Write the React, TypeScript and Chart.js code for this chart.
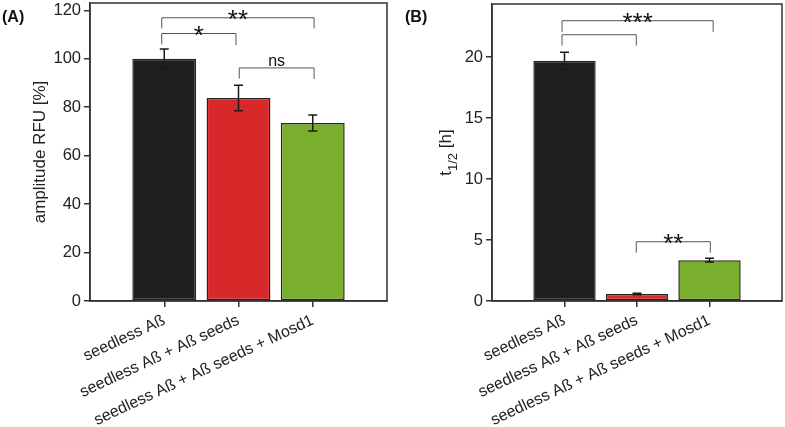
import React, { useEffect, useRef } from 'react';
import { Chart, registerables } from 'chart.js';

Chart.register(...registerables);

const FONT = "'Liberation Sans', Arial, Helvetica, sans-serif";

const categories = ['seedless Aß', 'seedless Aß + Aß seeds', 'seedless Aß + Aß seeds + Mosd1'];
const categoryPositions = [1, 2, 3];
const barColors = ['#1f1f1f', '#d7282a', '#7aae2d'];

const amplitudeValues = [100, 83.8, 73.5];
const amplitudeErrors = [4.0, 5.3, 3.3];
const amplitudeTicks = [0, 20, 40, 60, 80, 100, 120];

const halfLifeValues = [19.7, 0.57, 3.35];
const halfLifeErrors = [0.7, 0.06, 0.15];
const halfLifeTicks = [0, 5, 10, 15, 20];

const amplitudeBrackets = [
  { x1: 0.966, x2: 3.018, y: 116.9, yL: 112.5, yR: 112.5, label: '**' },
  { x1: 0.966, x2: 1.966, y: 110.4, yL: 105.9, yR: 105.6, label: '*' },
  { x1: 2.01, x2: 3.018, y: 96.2, yL: 91.8, yR: 91.6, label: 'ns' },
];

const halfLifeBrackets = [
  { x1: 0.966, x2: 3.05, y: 22.98, yL: 22.07, yR: 22.07, label: '***' },
  { x1: 0.966, x2: 1.99, y: 21.83, yL: 20.94, yR: 20.94, label: '' },
  { x1: 1.99, x2: 3.011, y: 4.86, yL: 3.96, yR: 3.96, label: '**' },
];

type Bracket = { x1: number; x2: number; y: number; yL: number; yR: number; label: string };

function makePlugin(panel: string, errors: number[], brackets: Bracket[], titleKind: 'amp' | 'half', titleX: number, panelX: number) {
  return {
    id: 'extras' + panel,
    afterDatasetsDraw(chart: any) {
      const ctx = chart.ctx;
      const xs = chart.scales.x;
      const ys = chart.scales.y;
      const area = chart.chartArea;
      const data = chart.data.datasets[0].data as { x: number; y: number }[];
      ctx.save();
      // error bars
      ctx.strokeStyle = '#1a1a1a';
      ctx.lineWidth = 1.5;
      data.forEach((d, i) => {
        const px = xs.getPixelForValue(d.x);
        const yt = ys.getPixelForValue(d.y + errors[i]);
        const yb = ys.getPixelForValue(d.y - errors[i]);
        ctx.beginPath();
        ctx.moveTo(px, yt);
        ctx.lineTo(px, yb);
        ctx.moveTo(px - 4.5, yt);
        ctx.lineTo(px + 4.5, yt);
        ctx.moveTo(px - 4.5, yb);
        ctx.lineTo(px + 4.5, yb);
        ctx.stroke();
      });
      // brackets
      ctx.strokeStyle = '#555';
      ctx.lineWidth = 1;
      brackets.forEach((b) => {
        const l = xs.getPixelForValue(b.x1);
        const r = xs.getPixelForValue(b.x2);
        const y = ys.getPixelForValue(b.y);
        ctx.beginPath();
        ctx.moveTo(l, ys.getPixelForValue(b.yL));
        ctx.lineTo(l, y);
        ctx.lineTo(r, y);
        ctx.lineTo(r, ys.getPixelForValue(b.yR));
        ctx.stroke();
        if (b.label) {
          ctx.fillStyle = '#111';
          ctx.textAlign = 'center';
          ctx.textBaseline = 'alphabetic';
          if (b.label === 'ns') {
            ctx.font = `16px ${FONT}`;
            ctx.fillText(b.label, (l + r) / 2, y - 2);
          } else {
            ctx.font = `26px ${FONT}`;
            ctx.fillText(b.label, (l + r) / 2, y + 10);
          }
        }
      });
      // frame
      ctx.strokeStyle = '#333';
      ctx.lineWidth = 1.5;
      ctx.strokeRect(area.left, area.top, area.right - area.left, area.bottom - area.top);
      // panel label
      ctx.fillStyle = '#111';
      ctx.font = `bold 16px ${FONT}`;
      ctx.textAlign = 'left';
      ctx.textBaseline = 'alphabetic';
      ctx.fillText(`(${panel})`, panelX, 22);
      // y title
      const cy = (area.top + area.bottom) / 2;
      ctx.translate(titleX, cy);
      ctx.rotate(-Math.PI / 2);
      ctx.fillStyle = '#222';
      if (titleKind === 'amp') {
        ctx.font = `17px ${FONT}`;
        ctx.textAlign = 'center';
        ctx.textBaseline = 'middle';
        ctx.fillText('amplitude RFU [%]', 0, 0);
      } else {
        const big = `17px ${FONT}`;
        const small = `13px ${FONT}`;
        ctx.textAlign = 'left';
        ctx.textBaseline = 'alphabetic';
        ctx.font = big;
        const w1 = ctx.measureText('t').width;
        const w3 = ctx.measureText(' [h]').width;
        ctx.font = small;
        const w2 = ctx.measureText('1/2').width;
        let x0 = -(w1 + w2 + w3) / 2;
        ctx.font = big;
        ctx.fillText('t', x0, 0);
        x0 += w1;
        ctx.font = small;
        ctx.fillText('1/2', x0, 6);
        x0 += w2;
        ctx.font = big;
        ctx.fillText(' [h]', x0, 0);
      }
      ctx.restore();
    },
  };
}

function makeConfig(values: number[], errors: number[], yTicks: number[], yMax: number, yWidth: number, pad: any, plugin: any) {
  return {
    type: 'bar',
    data: {
      datasets: [
        {
          data: values.map((v, i) => ({ x: categoryPositions[i], y: v })),
          backgroundColor: barColors,
          borderColor: '#262626',
          borderWidth: 1.5,
          borderSkipped: false,
          barPercentage: 0.86,
          categoryPercentage: 1,
        },
      ],
    },
    options: {
      animation: false,
      responsive: false,
      maintainAspectRatio: false,
      layout: { padding: pad },
      plugins: { legend: { display: false }, tooltip: { enabled: false } },
      scales: {
        x: {
          type: 'linear',
          min: 0,
          max: 4,
          offset: false,
          afterBuildTicks: (s: any) => {
            s.ticks = categoryPositions.map((v) => ({ value: v }));
          },
          afterFit: (s: any) => {
            s.height = 126;
            s.paddingLeft = 0;
            s.paddingRight = 0;
          },
          grid: { display: true, offset: false, drawOnChartArea: false, drawTicks: true, tickLength: 6, color: '#333', lineWidth: 1.5 },
          border: { display: true, color: '#333', width: 1.5 },
          ticks: {
            autoSkip: false,
            minRotation: 25,
            maxRotation: 25,
            padding: 4,
            color: '#222',
            font: { family: FONT, size: 16 },
            callback: (v: number) => categories[categoryPositions.indexOf(v)] ?? '',
          },
        },
        y: {
          type: 'linear',
          min: 0,
          max: yMax,
          afterBuildTicks: (s: any) => {
            s.ticks = yTicks.map((v) => ({ value: v }));
          },
          afterFit: (s: any) => {
            s.width = yWidth;
            s.paddingTop = 0;
            s.paddingBottom = 0;
          },
          grid: { display: true, drawOnChartArea: false, drawTicks: true, tickLength: 6, color: '#333', lineWidth: 1.5 },
          border: { display: true, color: '#333', width: 1.5 },
          ticks: {
            includeBounds: false,
            padding: 3,
            color: '#222',
            font: { family: FONT, size: 16.5 },
          },
        },
      },
    },
    plugins: [plugin],
  } as any;
}

export default function App() {
  const refA = useRef<HTMLCanvasElement>(null);
  const refB = useRef<HTMLCanvasElement>(null);

  useEffect(() => {
    const a = new Chart(
      refA.current as HTMLCanvasElement,
      makeConfig(amplitudeValues, amplitudeErrors, amplitudeTicks, 123, 90, { left: 0, right: 5, top: 3, bottom: 0 },
        makePlugin('A', amplitudeErrors, amplitudeBrackets, 'amp', 40, 2))
    );
    const b = new Chart(
      refB.current as HTMLCanvasElement,
      makeConfig(halfLifeValues, halfLifeErrors, halfLifeTicks, 24.35, 92, { left: 0, right: 3, top: 4, bottom: 0 },
        makePlugin('B', halfLifeErrors, halfLifeBrackets, 'half', 51, 5))
    );
    return () => {
      a.destroy();
      b.destroy();
    };
  }, []);

  return (
    <div style={{ position: 'fixed', left: 0, top: 0, width: 785, height: 427, background: '#fff' }}>
      <canvas ref={refA} width={392} height={427} style={{ position: 'absolute', left: 0, top: 0, width: 392, height: 427 }} />
      <canvas ref={refB} width={385} height={427} style={{ position: 'absolute', left: 400, top: 0, width: 385, height: 427 }} />
    </div>
  );
}
